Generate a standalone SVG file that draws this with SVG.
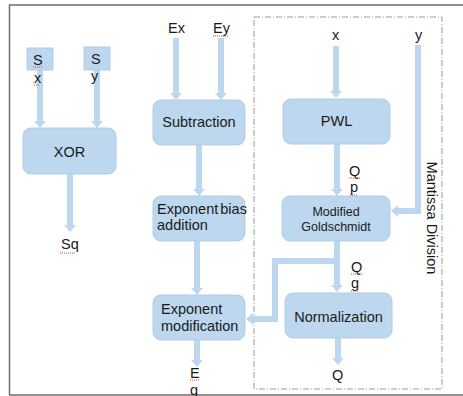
<svg xmlns="http://www.w3.org/2000/svg" width="463" height="396" viewBox="0 0 463 396">
<defs>
<style>
.box{fill:#BDD7EE;stroke:#B2CCE6;stroke-width:1}
.t{font-family:"Liberation Sans",Arial,sans-serif;font-size:14.5px;fill:#1a1a1a}
.tc{text-anchor:middle}
.small{font-size:12.5px}
.lbl{font-family:"Liberation Sans",Arial,sans-serif;font-size:14.5px;fill:#1a1a1a}
.arr{fill:none;stroke:#BDD7EE;stroke-width:6;marker-end:url(#ah)}
.sq{fill:none;stroke:#d04040;stroke-width:1;stroke-dasharray:1 1}
</style>
<marker id="ah" markerUnits="userSpaceOnUse" markerWidth="8" markerHeight="12" refX="0" refY="6" orient="auto">
<path d="M0,0 L7,6 L0,12 Z" fill="#BDD7EE"/>
</marker>
</defs>
<rect width="463" height="396" fill="#fff"/>
<path d="M470,5 H9.5 V395 H470" fill="none" stroke="#6e6e6e" stroke-width="1.5"/>
<rect id="mantissa-division" x="254" y="17" width="188" height="372" fill="none" stroke="#9a9a9a" stroke-width="1" stroke-dasharray="6 2 1 2"/>
<text class="lbl" transform="translate(427,218) rotate(90)" text-anchor="middle">Mantissa Division</text>

<g id="connectors">
<path class="arr" d="M40,70 V121"/>
<path class="arr" d="M97,70 V121"/>
<path class="arr" d="M70,174 V225"/>
<path class="arr" d="M176,38 V93"/>
<path class="arr" d="M221,38 V93"/>
<path class="arr" d="M199,145 V189"/>
<path class="arr" d="M197,241 V288"/>
<path class="arr" d="M197,340 V360"/>
<path class="arr" d="M336,46 V91"/>
<path class="arr" d="M337,144 V189"/>
<path class="arr" d="M418,45 V211 H398"/>
<path class="arr" d="M337,241 V285"/>
<path class="arr" d="M337,261 H275 V319 H253"/>
<path class="arr" d="M338,338 V358"/>
</g>

<g id="sx"><rect class="box" x="27" y="48" width="26" height="22"/><text class="lbl" x="33" y="65">S</text><text class="lbl" x="34" y="83">x</text></g>
<g id="sy"><rect class="box" x="84" y="47" width="26" height="23"/><text class="lbl" x="91" y="64">S</text><text class="lbl" x="91" y="81">y</text></g>
<g id="xor"><rect class="box" x="23" y="128" width="93" height="46" rx="8"/><text class="t tc" x="69.5" y="157">XOR</text></g>
<g id="sq"><text class="lbl" x="61" y="249">Sq</text></g>
<g id="ex"><text class="lbl" x="168" y="33">Ex</text></g>
<g id="ey"><text class="lbl" x="213" y="33">Ey</text></g>
<g id="subtraction"><rect class="box" x="153" y="100" width="92" height="45" rx="8"/><text class="t tc" x="199" y="127">Subtraction</text></g>
<g id="exponent-bias"><rect class="box" x="153" y="196" width="92" height="45" rx="8"/><text class="t" x="157" y="214" word-spacing="-2">Exponent bias</text><text class="t" x="157" y="230">addition</text></g>
<g id="exponent-mod"><rect class="box" x="153" y="295" width="92" height="45" rx="8"/><text class="t" x="161" y="314">Exponent</text><text class="t" x="161" y="331">modification</text></g>
<g id="eg"><text class="lbl" x="190" y="378">E</text><text class="lbl" x="190" y="395">g</text></g>
<g id="x-in"><text class="lbl" x="332" y="40">x</text></g>
<g id="y-in"><text class="lbl" x="415" y="40">y</text></g>
<g id="pwl"><rect class="box" x="283" y="99" width="107" height="45" rx="8"/><text class="t tc" x="336.5" y="126">PWL</text></g>
<g id="qp"><text class="lbl" x="349" y="176">Q</text><text class="lbl" x="350" y="192">p</text></g>
<g id="goldschmidt"><rect class="box" x="282" y="196" width="108" height="45" rx="8"/><text class="t tc small" x="336" y="216">Modified</text><text class="t tc small" x="336" y="231">Goldschmidt</text></g>
<g id="qg"><text class="lbl" x="351" y="272">Q</text><text class="lbl" x="351" y="288">g</text></g>
<g id="normalization"><rect class="box" x="285" y="293" width="107" height="45" rx="8"/><text class="t tc" x="338.5" y="322">Normalization</text></g>
<g id="q-out"><text class="lbl" x="332" y="380">Q</text></g>

<g id="spell-marks">
<path class="sq" d="M33,67 H43 M34,85 H40 M213,36 H229 M60,253 H76 M349,178 H360 M350,195 H357 M351,274 H362 M351,291 H358 M190,380 H199"/>
</g>
</svg>
